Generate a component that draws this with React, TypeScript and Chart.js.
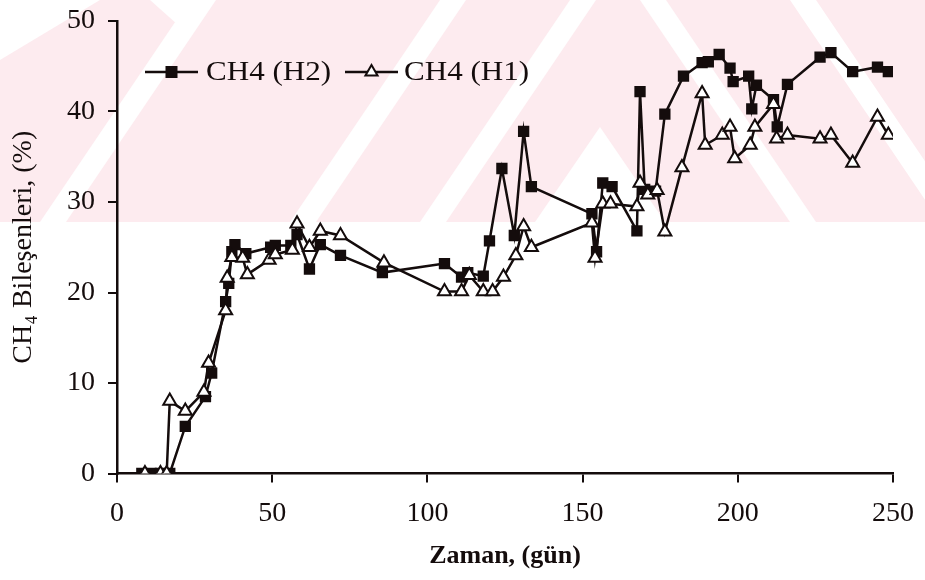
import React, { useEffect, useRef } from 'react';
import { Chart, registerables } from 'chart.js';

Chart.register(...registerables);

// ---- data ----
const h2Days = [8, 11, 14, 17, 22, 28.5, 30.5, 35, 36, 37, 38, 41.5, 49.5, 51, 56, 58, 62, 65.5, 72, 85.5, 105.5, 111, 113, 118, 120, 124, 128, 131, 133.5, 153, 154.5, 156.5, 159.5, 167.5, 168.5, 170, 173.5, 176.5, 182.5, 188.5, 190.5, 194, 197.5, 198.5, 203.5, 204.5, 206, 211.5, 212.7, 216, 226.5, 230, 237, 245, 248.5];
const h2Methane = [0, 0, 0, 0, 5.2, 8.5, 11.1, 19, 21, 24.5, 25.3, 24.3, 25, 25.2, 25.2, 26.4, 22.6, 25.3, 24.1, 22.2, 23.2, 21.7, 22.2, 21.8, 25.7, 33.7, 26.3, 37.8, 31.7, 28.7, 24.5, 32.1, 31.7, 26.8, 42.2, 31.4, 31.2, 39.7, 43.9, 45.4, 45.5, 46.3, 44.8, 43.3, 43.9, 40.3, 42.9, 41.3, 38.3, 43.0, 46.0, 46.5, 44.4, 44.9, 44.4];

const h1Days = [9, 14, 16, 17, 22, 28, 29.5, 35, 35.5, 37, 40.5, 42, 49, 51, 56.5, 58, 62, 65.5, 72, 86, 105.5, 111, 113.5, 118, 121, 124.5, 128.5, 131, 133.5, 153, 154, 156.5, 159, 167.5, 168.5, 171, 174, 176.5, 182, 188.5, 189.5, 195, 197.5, 199, 204, 205.5, 211.5, 212.5, 216, 226.5, 230, 237, 245, 248.5];
const h1Methane = [0, 0, 0, 8, 6.9, 9, 12.2, 18, 21.6, 23.9, 23.8, 22, 23.6, 24.2, 24.7, 27.6, 25, 26.8, 26.3, 23.3, 20.1, 20.1, 21.9, 20.1, 20.1, 21.7, 24.1, 27.3, 25, 27.7, 23.8, 29.8, 29.8, 29.5, 32.1, 30.8, 31.3, 26.7, 33.8, 42, 36.3, 37.4, 38.3, 34.8, 36.3, 38.3, 40.8, 37, 37.4, 37, 37.4, 34.3, 39.4, 37.4];

const seriesLabels = ['CH4 (H2)', 'CH4 (H1)'];
const xTitle = 'Zaman, (gün)';
const yTitle = 'CH\u2084 Bileşenleri, (%)';
const xRange = [0, 250];
const yRange = [0, 50];
const xStep = 50;
const yStep = 10;

const INK = '#140c0c';
const PINK = 'rgb(253,235,239)';
const SERIF = '"Liberation Serif", "Times New Roman", serif';

// faint pink scan watermark behind the plot
const watermarkPlugin = {
  id: 'watermark',
  beforeDraw(chart: any) {
    const { ctx } = chart;
    const H = 222;
    ctx.save();
    ctx.beginPath();
    ctx.rect(0, 0, chart.width, H);
    ctx.clip();
    ctx.fillStyle = PINK;
    ctx.fillRect(0, 0, chart.width, H);
    ctx.fillStyle = '#ffffff';
    const poly = (pts: number[][]) => {
      ctx.beginPath();
      ctx.moveTo(pts[0][0], pts[0][1]);
      for (let i = 1; i < pts.length; i++) ctx.lineTo(pts[i][0], pts[i][1]);
      ctx.closePath();
      ctx.fill();
    };
    poly([[0, 0], [100, 0], [0, 60]]);
    poly([[150, 0], [205, 0], [178, 25]]);
    [40, 290, 420].forEach((b) => poly([[b, H], [b + 26, H], [b + 176, 0], [b + 150, 0]]));
    poly([[600, 127], [665, H], [535, H]]);
    [640, 790].forEach((t) => poly([[t, 0], [t + 26, 0], [t + 176, H], [t + 150, H]]));
    ctx.restore();
  },
};

// legend drawn like the original (line + marker + text)
const legendPlugin = {
  id: 'lineLegend',
  afterDatasetsDraw(chart: any) {
    const { ctx } = chart;
    const y = 72;
    const items = [
      { x0: 145, x1: 198, tx: 206, kind: 'rect', text: seriesLabels[0] },
      { x0: 345, x1: 398, tx: 404, kind: 'triangle', text: seriesLabels[1] },
    ];
    ctx.save();
    items.forEach((it) => {
      ctx.strokeStyle = INK;
      ctx.lineWidth = 2.5;
      ctx.beginPath();
      ctx.moveTo(it.x0, y);
      ctx.lineTo(it.x1, y);
      ctx.stroke();
      const cx = (it.x0 + it.x1) / 2;
      if (it.kind === 'rect') {
        ctx.fillStyle = INK;
        ctx.fillRect(cx - 6, y - 6, 12, 12);
      } else {
        const r = 7;
        ctx.beginPath();
        ctx.moveTo(cx, y - r);
        ctx.lineTo(cx + r * 0.866, y + r / 2);
        ctx.lineTo(cx - r * 0.866, y + r / 2);
        ctx.closePath();
        ctx.fillStyle = '#fff';
        ctx.fill();
        ctx.lineWidth = 2;
        ctx.stroke();
      }
      ctx.save();
      ctx.translate(it.tx, y + 1);
      ctx.scale(1.15, 1);
      ctx.fillStyle = INK;
      ctx.font = '27px ' + SERIF;
      ctx.textBaseline = 'middle';
      ctx.textAlign = 'left';
      ctx.fillText(it.text, 0, 0);
      ctx.restore();
    });
    ctx.restore();
  },
};

function toPoints(xs: number[], ys: number[]) {
  return xs.map((x, i) => ({ x, y: ys[i] }));
}

export default function App() {
  const ref = useRef<HTMLCanvasElement | null>(null);

  useEffect(() => {
    document.body.style.margin = '0';
    const canvas = ref.current;
    if (!canvas) return;
    const chart = new Chart(canvas, {
      type: 'scatter',
      data: {
        datasets: [
          {
            label: seriesLabels[0],
            data: toPoints(h2Days, h2Methane),
            showLine: true,
            borderColor: INK,
            borderWidth: 2.5,
            backgroundColor: INK,
            pointStyle: 'rect',
            pointRadius: 8,
            pointBorderWidth: 0,
            pointBackgroundColor: INK,
            tension: 0,
            order: 1,
          },
          {
            label: seriesLabels[1],
            data: toPoints(h1Days, h1Methane),
            showLine: true,
            borderColor: INK,
            borderWidth: 2.5,
            backgroundColor: '#ffffff',
            pointStyle: 'triangle',
            pointRadius: 7.5,
            pointBorderWidth: 2,
            pointBorderColor: INK,
            pointBackgroundColor: '#ffffff',
            tension: 0,
            order: 0,
          },
        ],
      },
      options: {
        animation: false,
        responsive: false,
        maintainAspectRatio: false,
        devicePixelRatio: 1,
        layout: { padding: { top: 21, right: 32, bottom: 0, left: 0 } },
        plugins: {
          legend: { display: false },
          tooltip: { enabled: false },
        },
        scales: {
          x: {
            type: 'linear',
            min: xRange[0],
            max: xRange[1],
            border: { display: true, color: INK, width: 2.5 },
            grid: { display: true, drawOnChartArea: false, drawTicks: true, tickLength: 9, color: INK, lineWidth: 2 },
            ticks: {
              stepSize: xStep,
              color: INK,
              padding: 14,
              maxRotation: 0,
              font: { family: SERIF, size: 28 },
            },
            title: {
              display: true,
              text: xTitle,
              color: INK,
              font: { family: SERIF, size: 26, weight: 'bold' },
              padding: { top: 0, bottom: 8 },
            },
            afterFit(scale: any) {
              scale.height = 106.5;
              scale.paddingLeft = 0;
              scale.paddingRight = 0;
            },
          },
          y: {
            type: 'linear',
            min: yRange[0],
            max: yRange[1],
            border: { display: true, color: INK, width: 2.5 },
            grid: { display: true, drawOnChartArea: false, drawTicks: true, tickLength: 9, color: INK, lineWidth: 2 },
            ticks: {
              stepSize: yStep,
              color: INK,
              padding: 13,
              font: { family: SERIF, size: 28 },
            },
            title: {
              display: true,
              text: yTitle,
              color: INK,
              font: { family: SERIF, size: 28 },
              padding: { top: 7, bottom: 0 },
            },
            afterFit(scale: any) {
              scale.width = 117;
              scale.paddingTop = 0;
              scale.paddingBottom = 0;
            },
          },
        },
      } as any,
      plugins: [watermarkPlugin, legendPlugin],
    });
    return () => chart.destroy();
  }, []);

  return (
    <div style={{ width: 925, height: 580, position: 'relative', background: '#fff' }}>
      <canvas ref={ref} width={925} height={580} style={{ display: 'block', width: 925, height: 580 }} />
    </div>
  );
}
